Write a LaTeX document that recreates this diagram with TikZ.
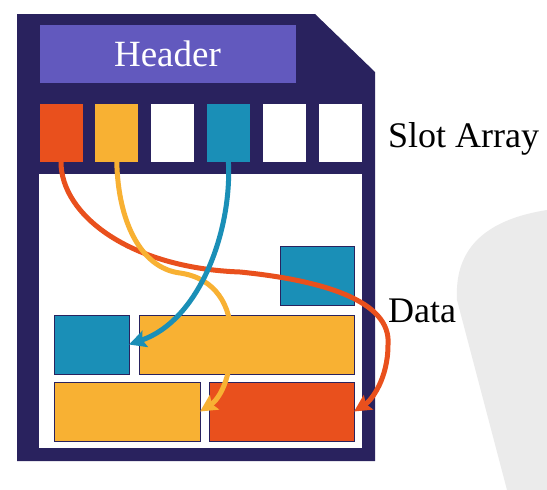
\documentclass[tikz,border=0pt]{standalone}
\usepackage{fontspec}
\setmainfont{Liberation Serif}
\usetikzlibrary{positioning, arrows.meta}

\definecolor{navy}{HTML}{29225E}
\definecolor{hdrpurple}{HTML}{6259BE}
\definecolor{recred}{HTML}{E9501D}
\definecolor{recyellow}{HTML}{F8B133}
\definecolor{recblue}{HTML}{1A8FB7}
\definecolor{backdrop}{HTML}{EBEBEB}

\begin{document}
\begin{tikzpicture}
[
    x=1pt, y=-1pt, node distance=8pt,
    % Slots are named S-0 ... S-5 (left to right)
    % Data blocks are named D-row-col
]
\useasboundingbox (0,0) rectangle (547,490);

%=================================== Start ===================================
\tikzstyle{blk} = [draw=navy, line width=0.8pt, inner sep=0pt, outer sep=0pt, minimum height=59pt]
\tikzstyle{lbl} = [font=\fontsize{36}{40}\selectfont, inner sep=0pt, anchor=base west]
\tikzstyle{ptr} = [line width=5pt, -{Stealth[length=17pt,width=17pt,inset=3pt]}]

% grey shape in the back
\fill[backdrop] (547,210) .. controls (470,222) and (455,262) .. (457,300)
    -- (507,490) -- (547,490) -- cycle;

% the page with its cut corner
\fill[navy] (17,14) -- (315,14) -- (375,72) -- (375,461) -- (17,461) -- cycle;
\node[fill=white, inner sep=0pt, minimum width=323pt, minimum height=274pt] (area) at (200.5,311) {};

% header
\node[blk, fill=hdrpurple, minimum width=257pt, text=white,
      font=\fontsize{37}{40}\selectfont] (header) at (167.5,53.5) {Header};

% slot array
\foreach \i / \c in {0/recred, 1/recyellow, 2/white, 3/recblue, 4/white, 5/white}
    \node[blk, fill=\c, minimum width=44pt] (S-\i) at (61+55.8*\i, 132.5) {};

% data blocks
\node[blk, fill=recblue, minimum width=74pt] (D-0-1) at (317,275.5) {};
\node[blk, fill=recblue, minimum width=75pt] (D-1-0) at (91.5,344.5) {};
\node[blk, fill=recyellow, minimum width=215pt, right=10pt of D-1-0] (D-1-1) {};
\node[blk, fill=recyellow, minimum width=146pt] (D-2-0) at (127,411.5) {};
\node[blk, fill=recred, minimum width=145pt, right=9pt of D-2-0] (D-2-1) {};

% pointers from the slots to the data
\draw[ptr, recred] (S-0.south) .. controls (61,215) and (130,268) .. (240,272)
    .. controls (320,280) and (392,300) .. (388,345)
    .. controls (388,378) and (372,400) .. (D-2-1.east);
\draw[ptr, recyellow] (S-1.south) .. controls (118,220) and (140,268) .. (180,273)
    .. controls (215,278) and (232,305) .. (231,340)
    .. controls (232,380) and (218,400) .. (D-2-0.east);
\draw[ptr, recblue] (S-3.south) .. controls (232,230) and (200,320) .. (D-1-0.east);

% labels
\node[lbl] (slot-lbl) at (388,147) {Slot Array};
\node[lbl] (data-lbl) at (388,322) {Data};
%==================================== END ====================================

\end{tikzpicture}
\end{document}
